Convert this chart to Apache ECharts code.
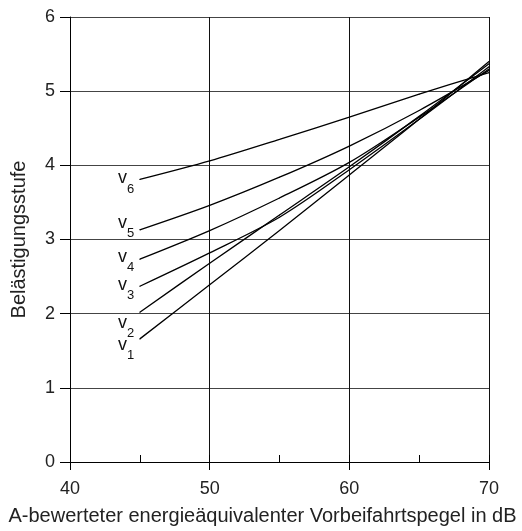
<!DOCTYPE html>
<html>
<head>
<meta charset="utf-8">
<script src="https://cdn.jsdelivr.net/npm/echarts@6/dist/echarts.min.js"></script>
<style>html,body{margin:0;padding:0;background:#fff}#c{width:522px;height:531px}</style>
</head>
<body>
<div id="c"></div>
<script>
const FONT = 'Liberation Sans, Arial, sans-serif';
const xValues = [45, 50, 55, 60, 65, 70];
const v1 = [1.66, 2.39, 3.12, 3.87, 4.62, 5.40];
const v2 = [2.02, 2.68, 3.33, 3.98, 4.66, 5.37];
const v3 = [2.37, 2.82, 3.30, 3.94, 4.62, 5.33];
const v4 = [2.735, 3.12, 3.56, 4.04, 4.65, 5.30];
const v5 = [3.13, 3.46, 3.84, 4.26, 4.74, 5.28];
const v6 = [3.81, 4.06, 4.35, 4.65, 4.96, 5.25];
const curveNames = ['1', '2', '3', '4', '5', '6'];
const curves = [v1, v2, v3, v4, v5, v6];
const labelOffsets = [10, 15, 3, 2, -3, 3];
const xTicks = [40, 50, 60, 70];
const yTicks = [0, 1, 2, 3, 4, 5, 6];
const xTitle = 'A-bewerteter energieäquivalenter Vorbeifahrtspegel in dB';
const yTitle = 'Belästigungsstufe';

const series = curves.map((vals, k) => ({
  type: 'line',
  name: 'v' + curveNames[k],
  xAxisIndex: 0,
  smooth: 0.3,
  symbol: 'circle',
  symbolSize: 1,
  showSymbol: true,
  itemStyle: { color: '#000' },
  lineStyle: { color: '#000', width: 1.3 },
  emphasis: { disabled: true },
  data: xValues.map((x, i) => {
    if (i === 0) {
      return {
        value: [x, vals[i]],
        label: {
          show: true,
          position: 'left',
          distance: 5,
          offset: [0, labelOffsets[k]],
          formatter: '{v|v}{s|' + curveNames[k] + '}',
          rich: {
            v: { fontSize: 18, fontFamily: FONT, color: '#111', padding: [0, 0, 8, 0], verticalAlign: 'bottom' },
            s: { fontSize: 13, fontFamily: FONT, color: '#111', verticalAlign: 'bottom' }
          }
        }
      };
    }
    return [x, vals[i]];
  })
}));

const chart = echarts.init(document.getElementById('c'), null, { renderer: 'canvas' });
chart.setOption({
  animation: false,
  backgroundColor: '#fff',
  grid: { left: 70, right: 33, top: 17, bottom: 66, containLabel: false },
  xAxis: [
    {
      type: 'value', min: xTicks[0], max: xTicks[xTicks.length - 1], interval: 10, position: 'bottom',
      axisLine: { show: true, lineStyle: { color: '#000', width: 1 } },
      axisTick: { show: true, length: 8, lineStyle: { color: '#000' } },
      splitLine: { show: true, lineStyle: { color: '#111', width: 1 } },
      axisLabel: { fontSize: 18, color: '#222', margin: 18, fontFamily: FONT },
      name: xTitle, nameLocation: 'middle', nameGap: 44,
      nameTextStyle: { fontSize: 20, color: '#222', fontFamily: FONT, padding: [0, 34, 0, 0] }
    },
    {
      type: 'value', min: 40, max: 70, interval: 5, position: 'bottom',
      axisLine: { show: false },
      axisTick: { show: true, inside: true, length: 7, lineStyle: { color: '#000' } },
      axisLabel: { show: false },
      splitLine: { show: false }
    }
  ],
  yAxis: {
    type: 'value', min: yTicks[0], max: yTicks[yTicks.length - 1], interval: 1,
    axisLine: { show: true, lineStyle: { color: '#000', width: 1 } },
    axisTick: { show: true, length: 10, lineStyle: { color: '#000' } },
    splitLine: { show: true, lineStyle: { color: '#444', width: 1 } },
    axisLabel: { fontSize: 18, color: '#222', margin: 15, fontFamily: FONT },
    name: yTitle, nameLocation: 'middle', nameGap: 41, nameRotate: 90,
    nameTextStyle: { fontSize: 20, color: '#222', fontFamily: FONT }
  },
  series: series
});
</script>
</body>
</html>
